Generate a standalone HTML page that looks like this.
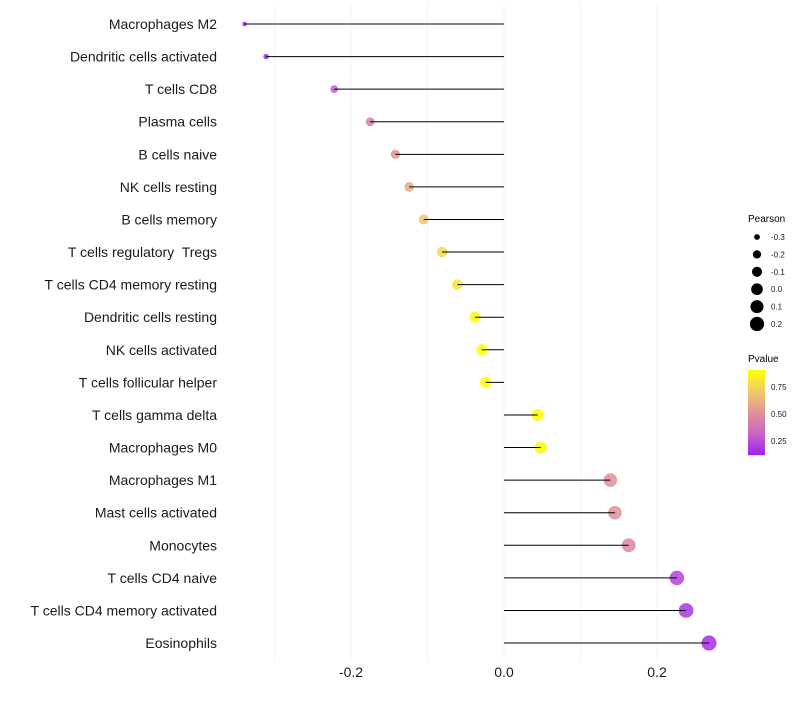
<!DOCTYPE html>
<html><head><meta charset="utf-8"><style>
body{margin:0;background:#fff;font-family:"Liberation Sans",sans-serif}
text{white-space:pre}
</style></head><body>
<svg id="c" width="800" height="700" xmlns="http://www.w3.org/2000/svg"></svg>
<script>
const cells=["Macrophages M2","Dendritic cells activated","T cells CD8","Plasma cells","B cells naive","NK cells resting","B cells memory","T cells regulatory  Tregs","T cells CD4 memory resting","Dendritic cells resting","NK cells activated","T cells follicular helper","T cells gamma delta","Macrophages M0","Macrophages M1","Mast cells activated","Monocytes","T cells CD4 naive","T cells CD4 memory activated","Eosinophils"];
const pearson=[-0.339,-0.311,-0.222,-0.175,-0.142,-0.124,-0.105,-0.081,-0.061,-0.038,-0.029,-0.024,0.044,0.048,0.139,0.145,0.163,0.226,0.238,0.268];
const pvalue=[0.12,0.14,0.3,0.42,0.52,0.6,0.7,0.76,0.82,0.9,0.93,0.95,0.9,0.88,0.5,0.5,0.45,0.22,0.18,0.16];
const xTicks=[-0.2,0,0.2];
const xTickLabels=["-0.2","0.0","0.2"];
const sizeLegend=[-0.3,-0.2,-0.1,0.0,0.1,0.2];
const sizeLegendLabels=["-0.3","-0.2","-0.1","0.0","0.1","0.2"];
const colorTicks=[0.25,0.5,0.75];
const colorTickLabels=["0.25","0.50","0.75"];

const ns="http://www.w3.org/2000/svg",svg=document.getElementById('c');
const X=v=>504+v*765, Y=i=>24+i*32.58, R=v=>Math.sqrt(Math.max(1,34+85*v));
const pmin=0.12,pmax=0.91;
function lerp(a,b,t){return a.map((x,i)=>Math.round(x+(b[i]-x)*t));}
function col(p){let t=Math.max(0,Math.min(1,(p-pmin)/(pmax-pmin)));
 const s=[[160,32,240],[200,100,200],[225,145,150],[240,200,110],[255,255,0]];
 const k=Math.min(3,Math.floor(t*4)),c=lerp(s[k],s[k+1],t*4-k);return `rgb(${c})`;}
function el(t,a,txt){const e=document.createElementNS(ns,t);for(const k in a)e.setAttribute(k,a[k]);if(txt!=null)e.textContent=txt;svg.appendChild(e);return e;}
for(let v=-0.3;v<=0.21;v+=0.1){const g=el('line',{x1:X(v),x2:X(v),y1:5,y2:660,stroke:'#f2f2f2','stroke-width':1});

}
cells.forEach((n,i)=>{
 const t=el('text',{x:217,y:Y(i)+5,'text-anchor':'end','font-size':14,fill:'#1a1a1a'},n);
 
 
 const c=el('circle',{cx:X(pearson[i]),cy:Y(i),r:R(pearson[i]),fill:col(pvalue[i]),'fill-opacity':0.85});
 
 
 const l=el('line',{x1:X(0),x2:X(pearson[i]),y1:Y(i),y2:Y(i),stroke:'#000','stroke-width':1});
 
 
});
xTicks.forEach((v,i)=>{const t=el('text',{x:X(v),y:677,'text-anchor':'middle','font-size':14,fill:'#1a1a1a'},xTickLabels[i]);

});
const lt=el('text',{x:748,y:222,'font-size':10,fill:'#000'},'Pearson');


sizeLegend.forEach((v,i)=>{const y=237+i*17.4;
 const c=el('circle',{cx:757,cy:y,r:R(v),fill:'#000'});
 
 
 const t=el('text',{x:771,y:y+3,'font-size':8,fill:'#1a1a1a'},sizeLegendLabels[i]);
 
 });
const ct=el('text',{x:748,y:362,'font-size':10,fill:'#000'},'Pvalue');


const barTop=370,barBot=455,CY=p=>barTop+(pmax-p)/(pmax-pmin)*(barBot-barTop);
for(let y=barTop;y<barBot;y++){const p=pmax-(y-barTop)/(barBot-barTop)*(pmax-pmin);
 const r=el('rect',{x:748,y:y,width:17,height:1.2,fill:col(p)});
 
 }
colorTicks.forEach((v,i)=>{const t=el('text',{x:771,y:CY(v)+3,'font-size':8,fill:'#1a1a1a'},colorTickLabels[i]);
 
 });
</script>
</body></html>
